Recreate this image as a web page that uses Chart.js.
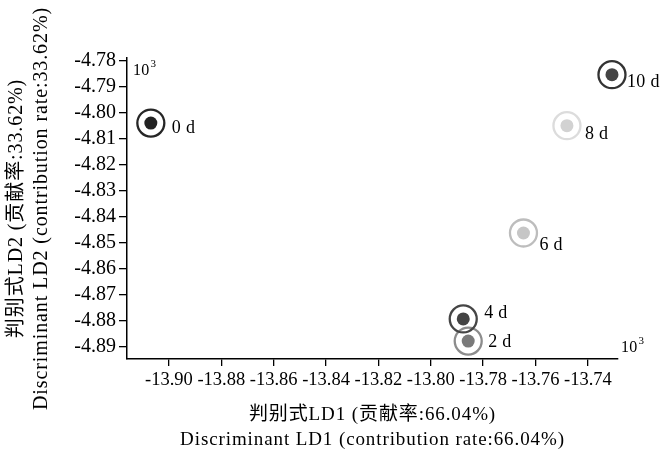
<!DOCTYPE html>
<html>
<head>
<meta charset="utf-8">
<script src="https://cdn.jsdelivr.net/npm/chart.js@4.4.1/dist/chart.umd.min.js"></script>
<style>
  html, body { margin: 0; padding: 0; background: #fff; }
  #wrap { width: 666px; height: 452px; }
</style>
</head>
<body>
<div id="wrap"><canvas id="chart1"></canvas></div>
<script>
// values
const days = ['0 d', '2 d', '4 d', '6 d', '8 d', '10 d'];
const ld1 = [-13.9069, -13.7857, -13.7876, -13.7646, -13.7480, -13.7308];
const ld2 = [-4.8040, -4.8877, -4.8792, -4.8462, -4.8050, -4.7854];
const xTicks = [-13.90, -13.88, -13.86, -13.84, -13.82, -13.80, -13.78, -13.76, -13.74];
const yTicks = [-4.78, -4.79, -4.80, -4.81, -4.82, -4.83, -4.84, -4.85, -4.86, -4.87, -4.88, -4.89];

const ringColors = ['#262626', '#8c8c8c', '#454545', '#bdbdbd', '#dcdcdc', '#333333'];
const blobColors = ['#222222', '#7a7a7a', '#444444', '#c6c6c6', '#d2d2d2', '#444444'];
// label offset from the circle centre (px)
const labelOffsets = [[21, 5], [20, 1], [21, -6], [16, 12], [18, 9], [15, 8]];

const serif = "'Liberation Serif', 'Noto Sans CJK SC', serif";
const pts = ld1.map((x, i) => ({ x: x, y: ld2[i] }));

// titles get wider spacing than tick labels (ticks are drawn after the datasets, z:1)
const spacing = {
  id: 'spacing',
  beforeUpdate(chart) { chart.ctx.letterSpacing = '0px'; },
  beforeDraw(chart) { chart.ctx.letterSpacing = '0.9px'; },
  afterDatasetsDraw(chart) { chart.ctx.letterSpacing = '0px'; }
};

const notes = {
  id: 'notes',
  afterDatasetsDraw(chart) {
    const c = chart.ctx, xs = chart.scales.x, ys = chart.scales.y;
    c.save();
    c.letterSpacing = '0.3px';
    c.fillStyle = '#000';
    c.textBaseline = 'middle';
    c.textAlign = 'left';
    c.font = '18px ' + serif;
    days.forEach((d, i) => {
      const px = xs.getPixelForValue(ld1[i]) + labelOffsets[i][0];
      const py = ys.getPixelForValue(ld2[i]) + labelOffsets[i][1];
      c.fillText(d, px, py);
    });
    // 10^3 multipliers
    const a = chart.chartArea;
    const pow = (x, y) => {
      c.textBaseline = 'alphabetic';
      c.font = '16px ' + serif;
      c.fillText('10', x, y);
      const w = c.measureText('10').width;
      c.font = '11px ' + serif;
      c.fillText('3', x + w + 1, y - 8);
    };
    pow(a.left + 6, a.top + 17);
    pow(a.right + 3, a.bottom - 7);
    c.restore();
  }
};

new Chart(document.getElementById('chart1'), {
  type: 'scatter',
  data: {
    datasets: [{
      data: pts,
      clip: false,
      pointRadius: 13.5,
      pointHoverRadius: 13.5,
      pointBorderWidth: 2.3,
      pointBackgroundColor: 'rgba(0,0,0,0)',
      pointBorderColor: ringColors
    }, {
      data: pts,
      clip: false,
      pointRadius: 6.5,
      pointHoverRadius: 6.5,
      pointBorderWidth: 0,
      pointBackgroundColor: blobColors,
      pointBorderColor: blobColors
    }]
  },
  plugins: [spacing, notes],
  options: {
    responsive: true,
    maintainAspectRatio: false,
    animation: false,
    layout: { padding: { top: 58, right: 48, left: 0, bottom: 0 } },
    plugins: {
      legend: { display: false },
      tooltip: { enabled: false }
    },
    scales: {
      x: {
        type: 'linear',
        min: -13.916,
        max: -13.7285,
        afterBuildTicks: s => { s.ticks = xTicks.map(v => ({ value: v })); },
        afterFit: s => { s.height = 93; },
        grid: { drawOnChartArea: false, drawTicks: true, tickLength: 7, color: '#000', lineWidth: 1.3 },
        border: { color: '#000', width: 1.5 },
        ticks: {
          z: 1,
          color: '#000',
          padding: 3,
          maxRotation: 0,
          autoSkip: false,
          font: { family: serif, size: 18.5 },
          callback: v => v.toFixed(2)
        },
        title: {
          display: true,
          text: ['判别式LD1 (贡献率:66.04%)', 'Discriminant LD1 (contribution rate:66.04%)'],
          color: '#000',
          font: { family: serif, size: 19, lineHeight: 1.3 },
          padding: { top: 11, bottom: 0 }
        }
      },
      y: {
        type: 'linear',
        min: -4.8946,
        max: -4.779,
        afterBuildTicks: s => { s.ticks = yTicks.map(v => ({ value: v })); },
        afterFit: s => { s.width = 127; },
        grid: { drawOnChartArea: false, drawTicks: true, tickLength: 8, color: '#000', lineWidth: 1.3 },
        border: { color: '#000', width: 1.5 },
        ticks: {
          z: 1,
          color: '#000',
          padding: 3,
          autoSkip: false,
          font: { family: serif, size: 20 },
          callback: v => v.toFixed(2)
        },
        title: {
          display: true,
          text: ['判别式LD2 (贡献率:33.62%)', 'Discriminant LD2 (contribution rate:33.62%)'],
          color: '#000',
          font: { family: serif, size: 20, lineHeight: 1.25 },
          padding: { top: 4, bottom: 0 }
        }
      }
    }
  }
});
</script>
</body>
</html>
